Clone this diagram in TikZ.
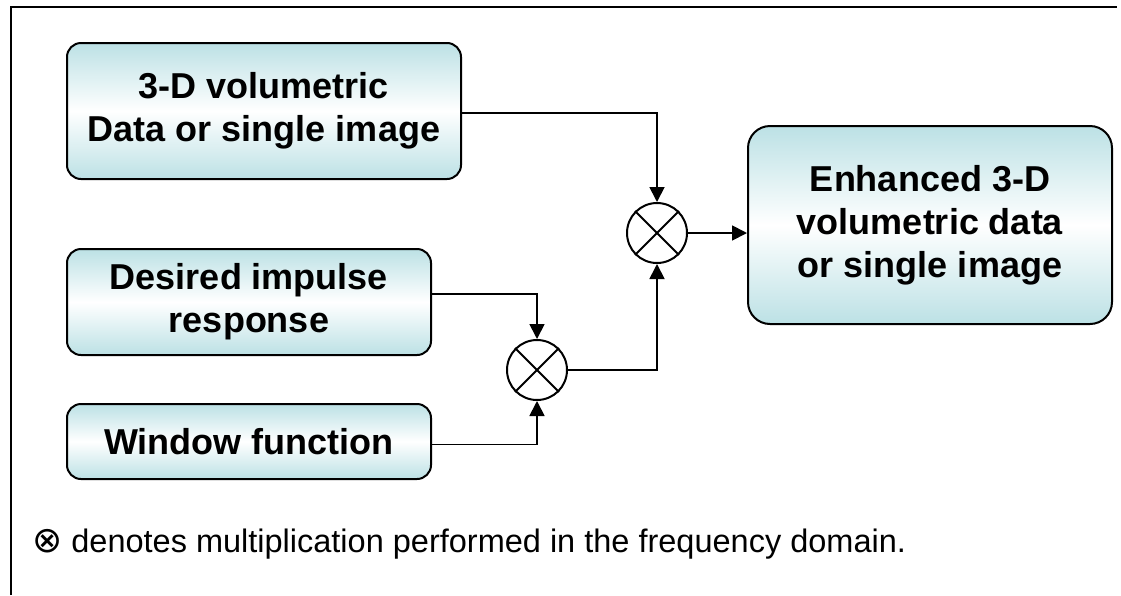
\documentclass[tikz,border=0pt]{standalone}
\usepackage{fontspec}
\setmainfont{Liberation Sans}
\newfontfamily\symfnt{DejaVu Sans}
\usetikzlibrary{arrows.meta}
\definecolor{boxc}{RGB}{188,225,229}
\begin{document}
\begin{tikzpicture}[x=1pt,y=-1pt,
  box/.style={draw, line width=2pt, rounded corners=14pt,
    top color=boxc, bottom color=boxc, middle color=white,
    align=center, inner sep=0pt,
    font=\fontsize{36}{43}\selectfont\bfseries},
  mult/.style={draw, circle, line width=2pt, minimum size=60pt, inner sep=0pt},
  conn/.style={line width=1.8pt},
  arr/.style={conn, -{Triangle[length=15pt,width=15pt]}},
  legend/.style={anchor=base west, inner sep=0pt, font=\fontsize{32.5}{38}\selectfont}]
\useasboundingbox (0,0) rectangle (1121,595);
\draw[line width=2pt] (11,595) -- (11,7) -- (1117,7);

\node[box, minimum width=394pt, minimum height=136pt] (vol) at (264,111) {3-D volumetric\\Data or single image};
\node[box, minimum width=364pt, minimum height=106pt] (imp) at (249,302) {Desired impulse\\response};
\node[box, minimum width=364pt, minimum height=75pt] (win) at (249,441.5) {Window function};
\node[box, rounded corners=22pt, minimum width=364pt, minimum height=198pt] (out) at (930,225) {Enhanced 3-D\\volumetric data\\or single image};

\node[mult] (m1) at (657,233) {};
\node[mult] (m2) at (537,370) {};
\foreach \m in {m1,m2}{
  \draw[line width=2pt] (\m.45) -- (\m.225);
  \draw[line width=2pt] (\m.135) -- (\m.-45);
}

\draw[arr] ([yshift=-2pt]vol.east) -| (m1.north);
\draw[arr] ([yshift=8pt]imp.east) -| (m2.north);
\draw[arr] ([yshift=-3pt]win.east) -| (m2.south);
\draw[arr] (m2.east) -| (m1.south);
\draw[arr] (m1.east) -- (m1.east -| out.west);

\node[legend] (leg) at (32,552) {{\symfnt\fontsize{36}{38}\selectfont ⊗} denotes multiplication performed in the frequency domain.};
\end{tikzpicture}
\end{document}
